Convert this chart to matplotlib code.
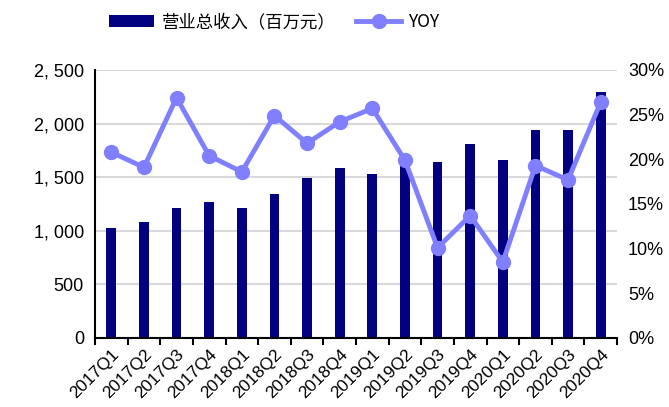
import matplotlib
matplotlib.use("Agg")
import matplotlib.pyplot as plt
import numpy as np
from matplotlib.ticker import FuncFormatter, FixedLocator

plt.rcParams['font.family'] = ['Liberation Sans', 'Noto Sans CJK SC', 'DejaVu Sans']

quarters = ["2017Q1", "2017Q2", "2017Q3", "2017Q4", "2018Q1", "2018Q2", "2018Q3", "2018Q4",
            "2019Q1", "2019Q2", "2019Q3", "2019Q4", "2020Q1", "2020Q2", "2020Q3", "2020Q4"]
revenue = [1026, 1082, 1213, 1269, 1213, 1343, 1493, 1586,
           1530, 1620, 1642, 1810, 1660, 1940, 1940, 2295]
yoy = [20.8, 19.1, 26.9, 20.4, 18.6, 24.9, 21.8, 24.2,
       25.7, 19.9, 10.1, 13.7, 8.5, 19.3, 17.7, 26.4]
left_ticks = [0, 500, 1000, 1500, 2000, 2500]
right_ticks = [0, 5, 10, 15, 20, 25, 30]

W, H = 669, 407
fig = plt.figure(figsize=(W / 100, H / 100), dpi=100)
ax = fig.add_axes([95 / W, 1 - 338 / H, (617 - 95) / W, (338 - 70) / H])
x = np.arange(len(quarters))

bars = ax.bar(x, revenue, width=0.3, color='#000080', zorder=2, label='营业总收入（百万元）')
ax.set_ylim(0, 2500)
ax.set_xlim(-0.5, len(quarters) - 0.5)
ax.yaxis.set_major_locator(FixedLocator(left_ticks))
ax.yaxis.set_major_formatter(FuncFormatter(lambda v, p: f"{int(v):,}".replace(",", ", ")))
ax.grid(axis='y', color='#d9d9d9', linewidth=1.5, zorder=0)
ax.set_axisbelow(True)

ax.set_xticks(x)
ax.set_xticklabels(quarters, rotation=45, ha='right', rotation_mode='anchor', fontsize=12.5)
ax.set_xticks(np.arange(-0.5, len(quarters), 1), minor=True)
ax.tick_params(axis='x', which='major', length=0, pad=6)
ax.tick_params(axis='x', which='minor', length=5, width=1.5, direction='out')
ax.tick_params(axis='y', labelsize=13, length=0, pad=8)

for s in ['top', 'right']:
    ax.spines[s].set_visible(False)
ax.spines['left'].set_linewidth(1.5)
ax.spines['bottom'].set_linewidth(1.5)

ax2 = ax.twinx()
line, = ax2.plot(x, yoy, color='#7F7FFF', linewidth=3.5, marker='o', markersize=10, zorder=3, label='YOY')
ax2.set_ylim(0, 30)
ax2.yaxis.set_major_locator(FixedLocator(right_ticks))
ax2.yaxis.set_major_formatter(FuncFormatter(lambda v, p: f"{int(v)}%"))
ax2.tick_params(axis='y', labelsize=13, length=0, pad=8)
for s in ['top', 'right', 'left', 'bottom']:
    ax2.spines[s].set_visible(False)

fig.legend([bars, line], ['营业总收入（百万元）', 'YOY'], loc='center', bbox_to_anchor=(0.41, 1 - 22 / H),
           ncol=2, frameon=False, handlelength=2.6, columnspacing=1.2, handletextpad=0.4,
           prop={'family': ['Noto Sans CJK SC', 'DejaVu Sans'], 'size': 12.5})

fig.savefig('out.png', dpi=100)
